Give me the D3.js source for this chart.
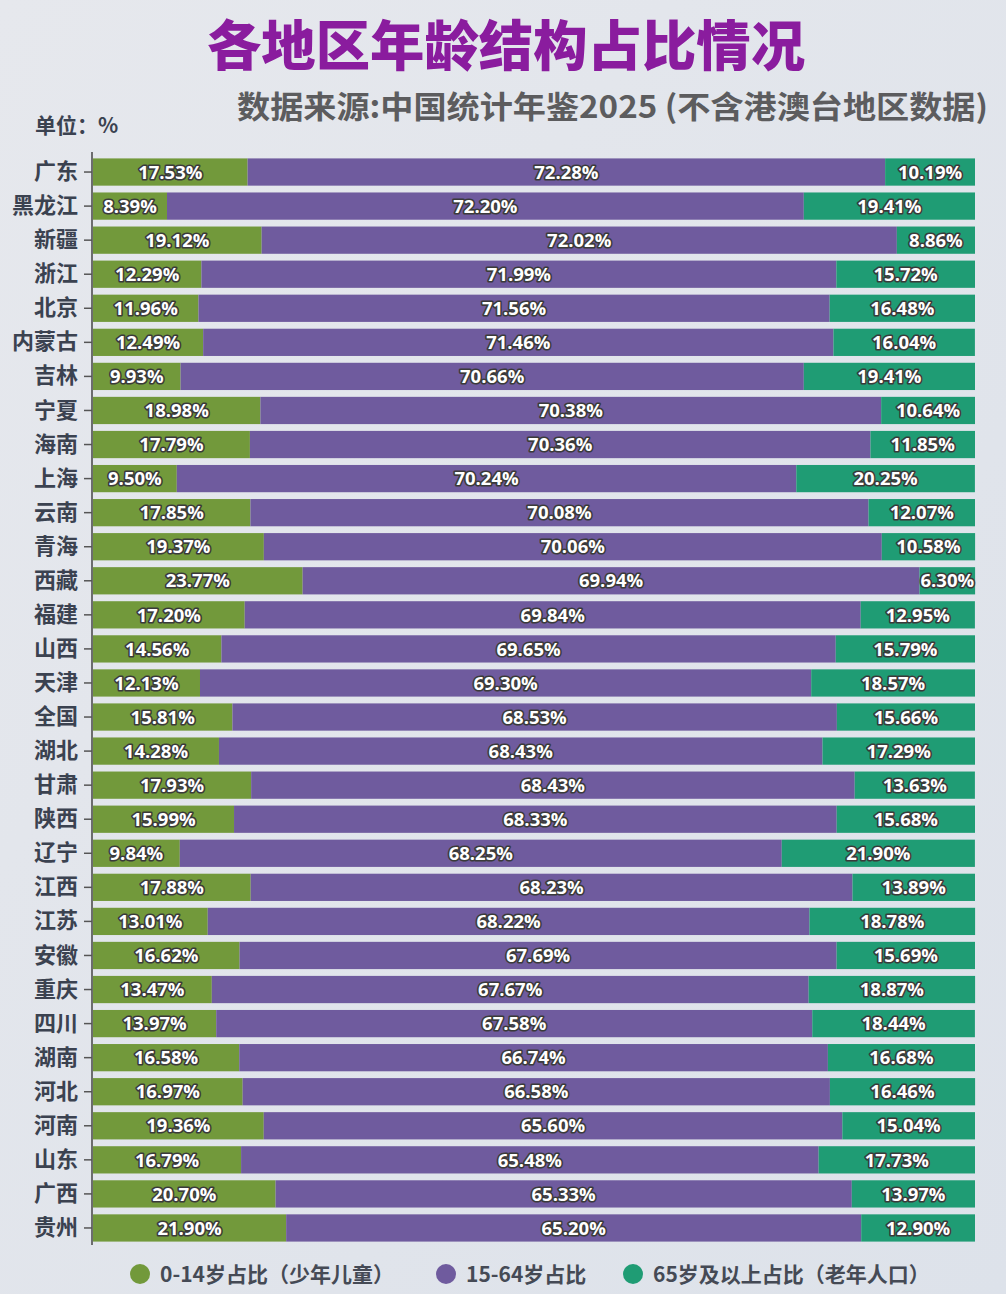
<!DOCTYPE html>
<html>
<head>
<meta charset="utf-8">
<script src="https://cdn.jsdelivr.net/npm/d3@7/dist/d3.min.js"></script>
<style>
  body { margin: 0; background: #e4e7ed; }
  svg { display: block; }
</style>
</head>
<body>
<div class="chart"></div>
<script>
// дані з картинки
var regions = ["广东","黑龙江","新疆","浙江","北京","内蒙古","吉林","宁夏","海南","上海","云南","青海","西藏","福建","山西","天津","全国","湖北","甘肃","陕西","辽宁","江西","江苏","安徽","重庆","四川","湖南","河北","河南","山东","广西","贵州"];
var young = [17.53,8.39,19.12,12.29,11.96,12.49,9.93,18.98,17.79,9.50,17.85,19.37,23.77,17.20,14.56,12.13,15.81,14.28,17.93,15.99,9.84,17.88,13.01,16.62,13.47,13.97,16.58,16.97,19.36,16.79,20.70,21.90];
var working = [72.28,72.20,72.02,71.99,71.56,71.46,70.66,70.38,70.36,70.24,70.08,70.06,69.94,69.84,69.65,69.30,68.53,68.43,68.43,68.33,68.25,68.23,68.22,67.69,67.67,67.58,66.74,66.58,65.60,65.48,65.33,65.20];
var old = [10.19,19.41,8.86,15.72,16.48,16.04,19.41,10.64,11.85,20.25,12.07,10.58,6.30,12.95,15.79,18.57,15.66,17.29,13.63,15.68,21.90,13.89,18.78,15.69,18.87,18.44,16.68,16.46,15.04,17.73,13.97,12.90];
var seriesKeys = ["young","working","old"];
var seriesNames = ["0-14岁占比（少年儿童）","15-64岁占比","65岁及以上占比（老年人口）"];

var W = 1006, H = 1294;

var color = d3.scaleOrdinal()
    .domain(seriesKeys)
    .range(["#72993b", "#6f5b9e", "#1f9c74"]);

var x = d3.scaleLinear()
    .domain([0, 100])
    .range([93, 975]);

var y = d3.scaleBand()
    .domain(regions)
    .range([155, 1245])
    .paddingInner(0.2)
    .paddingOuter(0.1);

window.onload = function(){

    var table = regions.map(function(r, i){
        return {region: r, young: young[i], working: working[i], old: old[i]};
    });

    var stacked = d3.stack().keys(seriesKeys)(table);

    var svg = d3.select(".chart").append("svg")
        .attr("width", W)
        .attr("height", H);

    var defs = svg.append("defs");
    var grad = defs.append("linearGradient")
        .attr("id", "bg")
        .attr("x1", 0).attr("y1", 0).attr("x2", 1).attr("y2", 1);
    grad.append("stop").attr("offset", "0%").attr("stop-color", "#e6e8ed");
    grad.append("stop").attr("offset", "100%").attr("stop-color", "#dde2ea");

    svg.append("rect")
        .attr("width", W)
        .attr("height", H)
        .attr("fill", "url(#bg)");

    // заголовок
    svg.append("text")
        .attr("x", 506)
        .attr("y", 66)
        .attr("text-anchor", "middle")
        .attr("textLength", 598)
        .attr("lengthAdjust", "spacingAndGlyphs")
        .style("font-family", "'Noto Sans CJK SC', sans-serif")
        .style("font-weight", 900)
        .style("font-size", "54px")
        .style("fill", "#8a1c9e")
        .text("各地区年龄结构占比情况");

    svg.append("text")
        .attr("x", 237)
        .attr("y", 118)
        .attr("textLength", 751)
        .attr("lengthAdjust", "spacingAndGlyphs")
        .style("font-family", "'Noto Sans CJK SC', sans-serif")
        .style("font-weight", 700)
        .style("font-size", "31px")
        .style("fill", "#5c5c5e")
        .text("数据来源:中国统计年鉴2025 (不含港澳台地区数据)");

    svg.append("text")
        .attr("x", 35)
        .attr("y", 133)
        .style("font-family", "'Noto Sans CJK SC', sans-serif")
        .style("font-weight", 700)
        .style("font-size", "21px")
        .style("fill", "#3b4250")
        .text("单位：%");

    // смуги
    var layers = svg.selectAll("g.layer")
        .data(stacked)
        .enter()
        .append("g")
        .attr("class", "layer")
        .attr("fill", function(d){ return color(d.key); });

    layers.selectAll("rect")
        .data(function(d){ return d; })
        .enter()
        .append("rect")
        .attr("x", function(d){ return x(d[0]); })
        .attr("y", function(d){ return y(d.data.region); })
        .attr("width", function(d){ return x(d[1]) - x(d[0]); })
        .attr("height", y.bandwidth());

    layers.selectAll("text")
        .data(function(d){ return d; })
        .enter()
        .append("text")
        .attr("x", function(d){ return (x(d[0]) + x(d[1])) / 2; })
        .attr("y", function(d){ return y(d.data.region) + y.bandwidth() / 2; })
        .attr("dy", "0.36em")
        .attr("text-anchor", "middle")
        .attr("paint-order", "stroke")
        .attr("stroke", "#3a3a3a")
        .attr("stroke-width", 3.2)
        .attr("stroke-linejoin", "round")
        .style("fill", "#ffffff")
        .style("font-family", "'Open Sans', sans-serif")
        .style("font-weight", 700)
        .style("font-size", "18.5px")
        .text(function(d){ return (d[1] - d[0]).toFixed(2) + "%"; });

    // вісь
    var axis = svg.append("g")
        .attr("transform", "translate(" + 92 + ",0)")
        .call(d3.axisLeft(y).tickSize(8).tickPadding(6).tickSizeOuter(0));

    axis.select(".domain")
        .attr("stroke", "#444")
        .attr("stroke-width", 1.5)
        .attr("d", "M0,152V1245");
    axis.selectAll(".tick line").attr("stroke", "#555").attr("stroke-width", 1.5);
    axis.selectAll(".tick text")
        .style("font-family", "'Noto Sans CJK SC', sans-serif")
        .style("font-weight", 700)
        .style("font-size", "22px")
        .style("fill", "#3b4250");

    // легенда
    var legendX = [140, 446, 633];
    var legend = svg.selectAll("g.legend")
        .data(seriesKeys)
        .enter()
        .append("g")
        .attr("class", "legend")
        .attr("transform", function(d, i){ return "translate(" + legendX[i] + ",1274)"; });

    legend.append("circle")
        .attr("r", 10)
        .attr("fill", function(d){ return color(d); });

    legend.append("text")
        .attr("x", 20)
        .attr("dy", "0.36em")
        .style("font-family", "'Noto Sans CJK SC', sans-serif")
        .style("font-weight", 700)
        .style("font-size", "21px")
        .style("fill", "#454a55")
        .text(function(d, i){ return seriesNames[i]; });
};
</script>
</body>
</html>
